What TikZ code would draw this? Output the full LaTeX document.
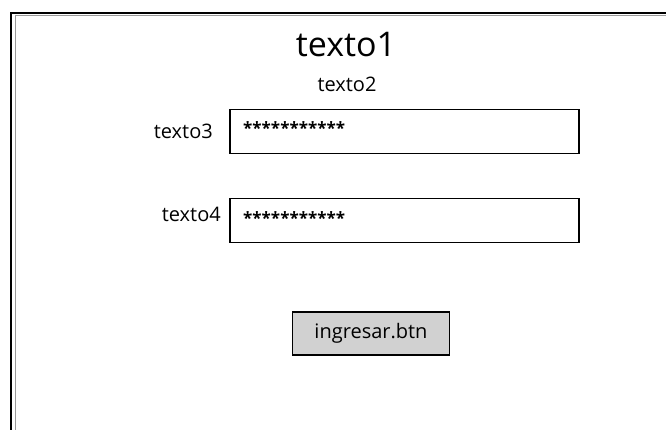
\documentclass[tikz,border=0pt]{standalone}
\usepackage{fontspec}
\setmainfont{Open Sans}
\usetikzlibrary{positioning}

\begin{document}
\begin{tikzpicture}[
	x=1pt,y=-1pt,
	titulo/.style={font=\fontsize{34}{38}\selectfont,anchor=base},
	etiqueta/.style={font=\fontsize{20}{24}\selectfont,inner sep=0pt},
	campo/.style={draw,line width=1.3pt,minimum width=349pt,minimum height=44pt,inner sep=0pt},
	clave/.style={font=\fontsize{17}{20}\selectfont\bfseries,inner sep=0pt,anchor=base west},
	boton/.style={draw,line width=1.3pt,fill=black!18,minimum width=157pt,minimum height=43pt,font=\fontsize{20}{24}\selectfont}
	]
	\useasboundingbox (0,0) rectangle (666,430);
	\fill[white] (0,0) rectangle (666,430);
	\draw[black!40,line width=1pt] (15,15.5) -- (666,15.5);
	\draw[black!40,line width=1pt] (15.5,15) -- (15.5,430);
	\draw[line width=2.2pt] (11,430) -- (11,13) -- (666,13);
	\node[titulo] (texto1) at (346,57) {texto1};
	\node[etiqueta,anchor=base] (texto2) at (347,92) {texto2};
	\node[campo] (campo1) at (404.5,131.5) {};
	\node[campo] (campo2) at (404.5,220.5) {};
	\node[etiqueta,anchor=base east] (texto3) at (213,139) {texto3};
	\node[etiqueta,anchor=base east] (texto4) at (221,222) {texto4};
	\node[clave] (clave1) at (243,135) {***********};
	\node[clave] (clave2) at (243,225) {***********};
	\node[boton] (ingresar) at (371,333.5) {ingresar.btn};
\end{tikzpicture}
\end{document}
